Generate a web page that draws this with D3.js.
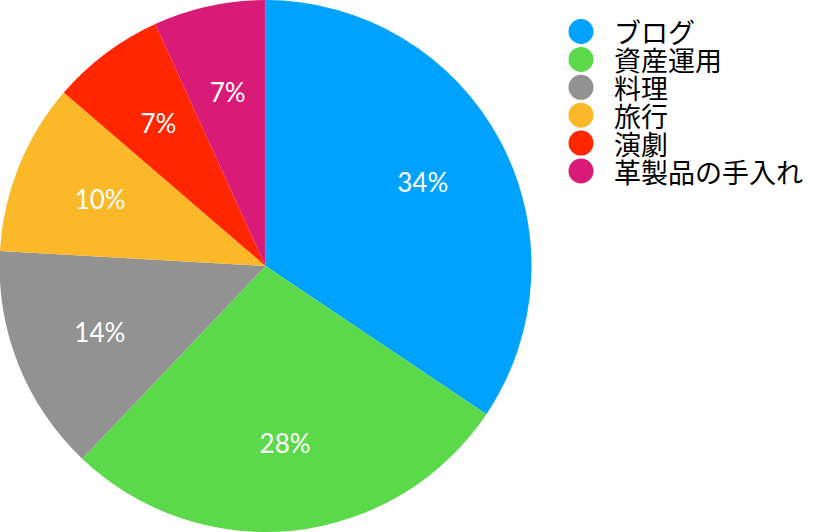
<!DOCTYPE html>
<html><head><meta charset="utf-8">
<script src="https://cdn.jsdelivr.net/npm/d3@7"></script>
<style>body{margin:0;background:#fff}svg{display:block}</style>
</head><body>
<svg id="c" width="828" height="532"></svg>
<script>
const categories = ["ブログ","資産運用","料理","旅行","演劇","革製品の手入れ"];
const values = [34.4,27.7,13.8,10.4,6.9,6.8];
const colors = ["#00A2FF","#5BD94A","#929292","#FBB829","#FF2600","#D81B76"];

const svg = d3.select("#c");
const cx = 265.5, cy = 266, r = 266;
const total = d3.sum(values);
const g = svg.append("g").attr("transform",`translate(${cx},${cy})`);
const pie = d3.pie().sort(null).value(d=>d)(values);
const arc = d3.arc().innerRadius(0).outerRadius(r);
const labelArc = d3.arc().innerRadius(r*0.67).outerRadius(r*0.67);
g.selectAll("path").data(pie).join("path")
  .attr("d",arc).attr("fill",(d,i)=>colors[i]);
g.selectAll("text").data(pie).join("text")
  .attr("transform",d=>`translate(${labelArc.centroid(d)})`)
  .attr("text-anchor","middle").attr("dominant-baseline","central")
  .attr("fill","#fff").attr("font-family","Lato, 'Open Sans', sans-serif")
  .attr("font-size",26)
  .text(d=>Math.round(d.data/total*100)+"%");

const y = d3.scalePoint().domain(categories).range([31.5,171]);
const lg = svg.append("g");
const items = lg.selectAll("g").data(categories).join("g")
  .attr("transform",d=>`translate(0,${y(d)})`);
items.append("circle").attr("cx",581).attr("cy",0).attr("r",12.5)
  .attr("fill",(d,i)=>colors[i]);
items.append("text").attr("x",614).attr("y",0)
  .attr("dominant-baseline","central")
  .attr("font-family","'Noto Sans CJK JP', sans-serif").attr("font-size",27)
  .attr("fill","#000").text(d=>d);
</script>
</body></html>
